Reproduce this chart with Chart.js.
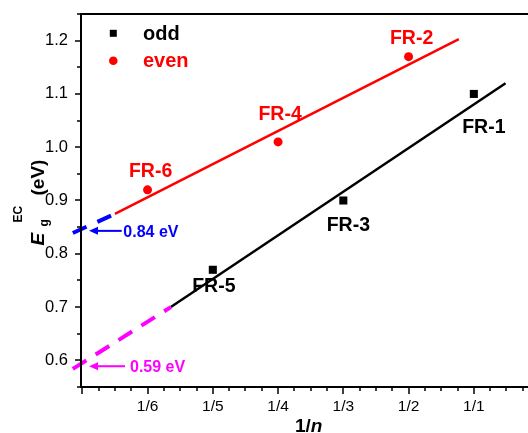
<!DOCTYPE html>
<html lang="en">
<head>
    <meta charset="UTF-8">
    <title>Eg EC vs 1/n</title>
    <style>
        body { margin: 0; background: #fff; }
        canvas { display: block; }
    </style>
</head>
<body>
<canvas id="egChart" width="528" height="433"></canvas>

<script src="https://cdn.jsdelivr.net/npm/chart.js"></script>
<script>
// tick labels (x is evenly spaced by position 1..6)
const xTickLabels = ['1/6', '1/5', '1/4', '1/3', '1/2', '1/1'];
const xTickPos = [1, 2, 3, 4, 5, 6];
const yTicks = [0.6, 0.7, 0.8, 0.9, 1.0, 1.1, 1.2];

// measured points
const oddNames = ['FR-1', 'FR-3', 'FR-5'];
const oddX = [6, 4, 2];
const oddY = [1.10, 0.90, 0.77];
const evenNames = ['FR-2', 'FR-4', 'FR-6'];
const evenX = [5, 3, 1];
const evenY = [1.17, 1.01, 0.92];

// linear fits (endpoints)
const evenFitX = [0.50, 5.77];
const evenFitY = [0.875, 1.203];
const oddFitX = [1.357, 6.486];
const oddFitY = [0.700, 1.120];
// dashed extrapolations toward the y axis
const evenExtX = [-0.145, 0.50];
const evenExtY = [0.839, 0.875];
const oddExtX = [-0.145, 1.357];
const oddExtY = [0.584, 0.700];

// intercept annotations
const interceptText = ['0.84 eV', '0.59 eV'];
const interceptY = [0.843, 0.589];

const pts = (xs, ys) => xs.map((x, i) => ({ x: x, y: ys[i] }));

// label placement offsets in px (dx from point, baseline dy from point)
const oddLabelOff = [[10, 39], [5, 30], [1, 22]];
const evenLabelOff = [[3, -13], [2, -22], [3, -13]];

const RED = '#ff0000', BLUE = '#0000ff', MAGENTA = '#ff00ff';
const FONT = '"Liberation Sans", Arial, sans-serif';

const annotations = {
    id: 'annotations',
    afterDraw(chart) {
        const ctx = chart.ctx;
        const xs = chart.scales.x, ys = chart.scales.y;
        const L = xs.getPixelForValue(xs.min);
        const R = xs.getPixelForValue(xs.max);
        const T = ys.getPixelForValue(ys.max);
        const B = ys.getPixelForValue(ys.min);
        ctx.save();
        ctx.setLineDash([]);

        // axes and top frame line
        ctx.fillStyle = '#000';
        ctx.fillRect(L - 1, T - 1, 2, B - T + 2);
        ctx.fillRect(L - 1, B - 1, R - L + 1, 2);
        ctx.fillRect(L - 1, T - 1, R - L + 1, 2);

        // tick marks, major + minor
        for (let i = 0; i * 0.25 <= xs.max; i++) {
            const px = Math.round(xs.getPixelForValue(i * 0.25));
            const len = (i % 4 === 0) ? 7 : 4;
            ctx.fillRect(px - 0.75, B, 1.5, len);
        }
        for (let i = 0; i <= 14; i++) {
            const v = 0.55 + i * 0.05;
            const py = Math.round(ys.getPixelForValue(v));
            const len = (i % 2 === 1) ? 6 : 4;
            ctx.fillRect(L - len, py - 0.75, len, 1.5);
        }

        // y axis title: E_g^EC (eV)
        ctx.save();
        ctx.translate(44, 245.5);
        ctx.rotate(-Math.PI / 2);
        ctx.fillStyle = '#000';
        ctx.textAlign = 'left';
        ctx.textBaseline = 'alphabetic';
        ctx.font = 'italic bold 19px ' + FONT;
        ctx.fillText('E', 0, 0);
        ctx.font = 'bold 12px ' + FONT;
        ctx.fillText('g', 19, 3.5);
        ctx.fillText('EC', 23, -22);
        ctx.font = 'bold 19px ' + FONT;
        ctx.fillText('(eV)', 50, 0);
        ctx.restore();

        // x axis title: 1/n
        ctx.fillStyle = '#000';
        ctx.textAlign = 'left';
        ctx.textBaseline = 'alphabetic';
        ctx.font = 'bold 19px ' + FONT;
        const w1 = ctx.measureText('1/').width;
        ctx.fillText('1/', 295, 432);
        ctx.font = 'italic bold 19px ' + FONT;
        ctx.fillText('n', 295 + w1, 432);

        // legend
        ctx.fillStyle = '#000';
        ctx.fillRect(109.8, 29.8, 7, 7);
        ctx.fillStyle = RED;
        ctx.beginPath();
        ctx.arc(113.3, 60.7, 4.3, 0, Math.PI * 2);
        ctx.fill();
        ctx.font = 'bold 20px ' + FONT;
        ctx.fillStyle = '#000';
        ctx.fillText('odd', 143, 40);
        ctx.fillStyle = RED;
        ctx.fillText('even', 143, 66.7);

        // point labels
        ctx.textAlign = 'center';
        ctx.font = 'bold 19.5px ' + FONT;
        ctx.fillStyle = '#000';
        oddNames.forEach((n, i) => {
            ctx.fillText(n, xs.getPixelForValue(oddX[i]) + oddLabelOff[i][0],
                ys.getPixelForValue(oddY[i]) + oddLabelOff[i][1]);
        });
        ctx.fillStyle = RED;
        evenNames.forEach((n, i) => {
            ctx.fillText(n, xs.getPixelForValue(evenX[i]) + evenLabelOff[i][0],
                ys.getPixelForValue(evenY[i]) + evenLabelOff[i][1]);
        });

        // intercept arrows + text
        const arrowCol = [BLUE, MAGENTA];
        const tailX = [121.7, 125];
        const textX = [123.3, 130];
        ctx.textAlign = 'left';
        ctx.font = 'bold 16px ' + FONT;
        interceptText.forEach((t, i) => {
            const py = ys.getPixelForValue(interceptY[i]);
            const tip = L + 8;
            ctx.fillStyle = arrowCol[i];
            ctx.fillRect(tip + 6, py - 1, tailX[i] - tip - 6, 2);
            ctx.beginPath();
            ctx.moveTo(tip, py);
            ctx.lineTo(tip + 9, py - 4);
            ctx.lineTo(tip + 9, py + 4);
            ctx.closePath();
            ctx.fill();
            ctx.fillText(t, textX[i], py + 6);
        });

        ctx.restore();
    }
};

new Chart(document.getElementById('egChart'), {
    type: 'scatter',
    data: {
        datasets: [
            {
                label: 'even fit ext',
                data: pts(evenExtX, evenExtY),
                showLine: true,
                borderColor: BLUE,
                borderWidth: 4,
                borderDash: [15, 12],
                pointRadius: 0,
                clip: false
            },
            {
                label: 'odd fit ext',
                data: pts(oddExtX, oddExtY),
                showLine: true,
                borderColor: MAGENTA,
                borderWidth: 4,
                borderDash: [16, 11],
                pointRadius: 0,
                clip: false
            },
            {
                label: 'even fit',
                data: pts(evenFitX, evenFitY),
                showLine: true,
                borderColor: RED,
                borderWidth: 2.5,
                pointRadius: 0
            },
            {
                label: 'odd fit',
                data: pts(oddFitX, oddFitY),
                showLine: true,
                borderColor: '#000',
                borderWidth: 2.5,
                pointRadius: 0
            },
            {
                label: 'odd',
                data: pts(oddX, oddY),
                pointStyle: 'rect',
                pointRadius: 5.7,
                backgroundColor: '#000',
                borderColor: '#000',
                borderWidth: 0
            },
            {
                label: 'even',
                data: pts(evenX, evenY),
                pointStyle: 'circle',
                pointRadius: 4.5,
                backgroundColor: RED,
                borderColor: RED,
                borderWidth: 0
            }
        ]
    },
    options: {
        responsive: false,
        animation: false,
        layout: { autoPadding: false, padding: { top: 14, right: 0, left: 0, bottom: 0 } },
        plugins: {
            legend: { display: false },
            tooltip: { enabled: false }
        },
        scales: {
            x: {
                type: 'linear',
                min: -0.02,
                max: 6.83,
                grid: { display: false, drawTicks: false },
                border: { display: false },
                afterBuildTicks: (axis) => { axis.ticks = xTickPos.map(v => ({ value: v })); },
                afterFit: (axis) => {
                    axis.height = 46;
                    axis.paddingLeft = 0;
                    axis.paddingRight = 0;
                },
                ticks: {
                    padding: 10,
                    color: '#000',
                    font: { family: FONT, size: 15.5 },
                    maxRotation: 0,
                    callback: (v) => xTickLabels[xTickPos.indexOf(v)]
                }
            },
            y: {
                min: 0.55,
                max: 1.25,
                grid: { display: false, drawTicks: false },
                border: { display: false },
                afterBuildTicks: (axis) => { axis.ticks = yTicks.map(v => ({ value: v })); },
                afterFit: (axis) => {
                    axis.width = 81;
                    axis.paddingTop = 0;
                    axis.paddingBottom = 0;
                },
                ticks: {
                    padding: 13,
                    color: '#000',
                    font: { family: FONT, size: 16.5 },
                    callback: (v) => v.toFixed(1)
                }
            }
        }
    },
    plugins: [annotations]
});
</script>
</body>
</html>
